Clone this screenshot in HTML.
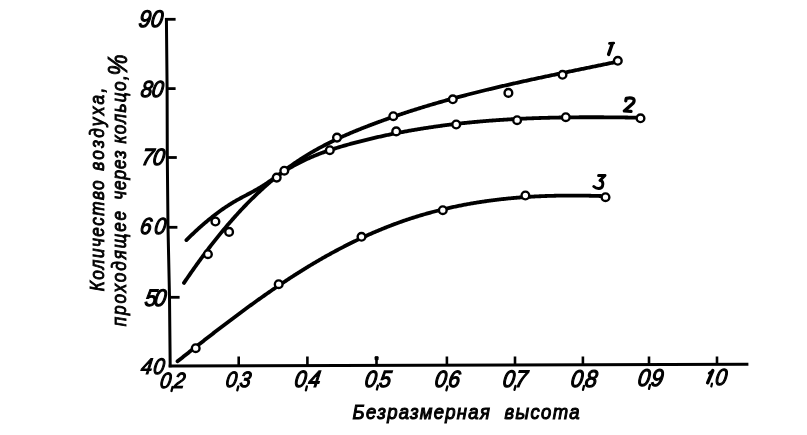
<!DOCTYPE html>
<html><head><meta charset="utf-8"><style>
html,body{margin:0;padding:0;background:#fff;width:807px;height:435px;overflow:hidden}
svg{display:block;will-change:transform}
text{font-family:"Liberation Sans",sans-serif}
</style></head><body>
<svg width="807" height="435" viewBox="0 0 807 435">
<rect width="807" height="435" fill="#fff"/>
<polyline points="166.4,18.0 167.1,88.0 167.3,157.0 168.0,227.0 169.5,297.0 170.2,367.2" fill="none" stroke="#000" stroke-width="3"/>
<line x1="165" y1="19.3" x2="175.6" y2="19.3" stroke="#000" stroke-width="2.8"/>
<line x1="167.1" y1="88.6" x2="175.6" y2="88.6" stroke="#000" stroke-width="2.8"/>
<line x1="167.3" y1="157.5" x2="176.8" y2="157.5" stroke="#000" stroke-width="2.8"/>
<line x1="168.0" y1="227.3" x2="177.4" y2="227.3" stroke="#000" stroke-width="2.8"/>
<line x1="169.5" y1="297.3" x2="179.6" y2="297.3" stroke="#000" stroke-width="2.8"/>
<line x1="168.7" y1="365.9" x2="748.4" y2="364.2" stroke="#000" stroke-width="3.0"/>
<rect x="374.6" y="356.2" width="4" height="4" rx="1" fill="#000"/>
<line x1="238.7" y1="365.6" x2="238.7" y2="356.5" stroke="#000" stroke-width="2.6"/>
<line x1="307.4" y1="365.4" x2="307.4" y2="356.5" stroke="#000" stroke-width="2.6"/>
<line x1="376.5" y1="365.2" x2="376.5" y2="356.5" stroke="#000" stroke-width="2.6"/>
<line x1="446.9" y1="365.0" x2="446.9" y2="356.5" stroke="#000" stroke-width="2.6"/>
<line x1="515.0" y1="364.8" x2="515.0" y2="356.5" stroke="#000" stroke-width="2.6"/>
<line x1="582.9" y1="364.7" x2="582.9" y2="356.5" stroke="#000" stroke-width="2.6"/>
<line x1="649.0" y1="364.5" x2="649.0" y2="356.5" stroke="#000" stroke-width="2.6"/>
<line x1="717.0" y1="364.3" x2="717.0" y2="356.5" stroke="#000" stroke-width="2.6"/>
<path d="M184.0,282.89 L185.0,281.41 L186.0,279.93 L187.0,278.47 L188.0,277.00 L189.0,275.55 L190.0,274.10 L191.0,272.66 L192.0,271.23 L193.0,269.81 L194.0,268.39 L195.0,266.98 L196.0,265.58 L197.0,264.18 L198.0,262.80 L199.0,261.42 L200.0,260.04 L201.0,258.68 L202.0,257.32 L203.0,255.97 L204.0,254.63 L205.0,253.29 L206.0,251.96 L207.0,250.64 L208.0,249.33 L209.0,248.02 L210.0,246.72 L211.0,245.43 L212.0,244.15 L213.0,242.87 L214.0,241.60 L215.0,240.34 L216.0,239.08 L217.0,237.83 L218.0,236.59 L219.0,235.36 L220.0,234.14 L221.0,232.92 L222.0,231.71 L223.0,230.50 L224.0,229.31 L225.0,228.12 L226.0,226.94 L227.0,225.76 L228.0,224.59 L229.0,223.43 L230.0,222.28 L231.0,221.14 L232.0,220.00 L233.0,218.87 L234.0,217.74 L235.0,216.63 L236.0,215.52 L237.0,214.42 L238.0,213.32 L239.0,212.24 L240.0,211.16 L241.0,210.08 L242.0,209.02 L243.0,207.96 L244.0,206.91 L245.0,205.87 L246.0,204.83 L247.0,203.80 L248.0,202.78 L249.0,201.77 L250.0,200.76 L251.0,199.76 L252.0,198.77 L253.0,197.78 L254.0,196.80 L255.0,195.83 L256.0,194.87 L257.0,193.91 L258.0,192.97 L259.0,192.02 L260.0,191.09 L261.0,190.16 L262.0,189.24 L263.0,188.33 L264.0,187.42 L265.0,186.52 L266.0,185.63 L267.0,184.75 L268.0,183.87 L269.0,183.00 L270.0,182.14 L271.0,181.28 L272.0,180.44 L273.0,179.60 L274.0,178.76 L275.0,177.94 L276.0,177.12 L277.0,176.30 L278.0,175.50 L279.0,174.70 L280.0,173.91 L281.0,173.13 L282.0,172.35 L283.0,171.58 L284.0,170.82 L285.0,170.06 L286.0,169.32 L287.0,168.58 L288.0,167.84 L289.0,167.12 L290.0,166.40 L291.0,165.68 L292.0,164.98 L293.0,164.28 L294.0,163.58 L295.0,162.90 L296.0,162.22 L297.0,161.54 L298.0,160.88 L299.0,160.21 L300.0,159.56 L301.0,158.91 L302.0,158.27 L303.0,157.63 L304.0,157.00 L305.0,156.37 L306.0,155.76 L307.0,155.14 L308.0,154.53 L309.0,153.93 L310.0,153.34 L311.0,152.74 L312.0,152.16 L313.0,151.58 L314.0,151.00 L315.0,150.43 L316.0,149.87 L317.0,149.31 L318.0,148.75 L319.0,148.20 L320.0,147.66 L321.0,147.12 L322.0,146.59 L323.0,146.06 L324.0,145.53 L325.0,145.01 L326.0,144.49 L327.0,143.98 L328.0,143.47 L329.0,142.97 L330.0,142.47 L331.0,141.97 L332.0,141.48 L333.0,141.00 L334.0,140.51 L335.0,140.04 L336.0,139.56 L337.0,139.09 L338.0,138.62 L339.0,138.16 L340.0,137.70 L341.0,137.24 L342.0,136.79 L343.0,136.34 L344.0,135.89 L345.0,135.45 L346.0,135.01 L347.0,134.57 L348.0,134.14 L349.0,133.71 L350.0,133.28 L351.0,132.86 L352.0,132.44 L353.0,132.02 L354.0,131.60 L355.0,131.19 L356.0,130.78 L357.0,130.37 L358.0,129.96 L359.0,129.56 L360.0,129.16 L361.0,128.76 L362.0,128.36 L363.0,127.97 L364.0,127.57 L365.0,127.18 L366.0,126.79 L367.0,126.41 L368.0,126.02 L369.0,125.64 L370.0,125.26 L371.0,124.88 L372.0,124.50 L373.0,124.12 L374.0,123.75 L375.0,123.37 L376.0,123.00 L377.0,122.63 L378.0,122.26 L379.0,121.89 L380.0,121.53 L381.0,121.16 L382.0,120.80 L383.0,120.44 L384.0,120.08 L385.0,119.72 L386.0,119.37 L387.0,119.01 L388.0,118.66 L389.0,118.30 L390.0,117.95 L391.0,117.60 L392.0,117.26 L393.0,116.91 L394.0,116.57 L395.0,116.22 L396.0,115.88 L397.0,115.54 L398.0,115.20 L399.0,114.86 L400.0,114.53 L401.0,114.19 L402.0,113.86 L403.0,113.52 L404.0,113.19 L405.0,112.86 L406.0,112.54 L407.0,112.21 L408.0,111.88 L409.0,111.56 L410.0,111.24 L411.0,110.92 L412.0,110.60 L413.0,110.28 L414.0,109.96 L415.0,109.64 L416.0,109.33 L417.0,109.01 L418.0,108.70 L419.0,108.39 L420.0,108.08 L421.0,107.77 L422.0,107.46 L423.0,107.16 L424.0,106.85 L425.0,106.55 L426.0,106.25 L427.0,105.94 L428.0,105.64 L429.0,105.35 L430.0,105.05 L431.0,104.75 L432.0,104.45 L433.0,104.16 L434.0,103.87 L435.0,103.58 L436.0,103.28 L437.0,102.99 L438.0,102.71 L439.0,102.42 L440.0,102.13 L441.0,101.85 L442.0,101.56 L443.0,101.28 L444.0,101.00 L445.0,100.71 L446.0,100.43 L447.0,100.16 L448.0,99.88 L449.0,99.60 L450.0,99.32 L451.0,99.05 L452.0,98.78 L453.0,98.50 L454.0,98.23 L455.0,97.96 L456.0,97.69 L457.0,97.42 L458.0,97.15 L459.0,96.89 L460.0,96.62 L461.0,96.35 L462.0,96.09 L463.0,95.83 L464.0,95.56 L465.0,95.30 L466.0,95.04 L467.0,94.78 L468.0,94.52 L469.0,94.27 L470.0,94.01 L471.0,93.75 L472.0,93.50 L473.0,93.24 L474.0,92.99 L475.0,92.74 L476.0,92.49 L477.0,92.23 L478.0,91.98 L479.0,91.73 L480.0,91.49 L481.0,91.24 L482.0,90.99 L483.0,90.74 L484.0,90.50 L485.0,90.25 L486.0,90.01 L487.0,89.77 L488.0,89.53 L489.0,89.28 L490.0,89.04 L491.0,88.80 L492.0,88.56 L493.0,88.32 L494.0,88.09 L495.0,87.85 L496.0,87.61 L497.0,87.37 L498.0,87.14 L499.0,86.90 L500.0,86.67 L501.0,86.44 L502.0,86.20 L503.0,85.97 L504.0,85.74 L505.0,85.51 L506.0,85.28 L507.0,85.05 L508.0,84.82 L509.0,84.59 L510.0,84.36 L511.0,84.14 L512.0,83.91 L513.0,83.68 L514.0,83.46 L515.0,83.23 L516.0,83.01 L517.0,82.78 L518.0,82.56 L519.0,82.34 L520.0,82.11 L521.0,81.89 L522.0,81.67 L523.0,81.45 L524.0,81.23 L525.0,81.01 L526.0,80.79 L527.0,80.57 L528.0,80.35 L529.0,80.13 L530.0,79.91 L531.0,79.70 L532.0,79.48 L533.0,79.26 L534.0,79.04 L535.0,78.83 L536.0,78.61 L537.0,78.40 L538.0,78.18 L539.0,77.97 L540.0,77.75 L541.0,77.54 L542.0,77.33 L543.0,77.11 L544.0,76.90 L545.0,76.69 L546.0,76.48 L547.0,76.26 L548.0,76.05 L549.0,75.84 L550.0,75.63 L551.0,75.42 L552.0,75.21 L553.0,75.00 L554.0,74.79 L555.0,74.58 L556.0,74.37 L557.0,74.16 L558.0,73.95 L559.0,73.74 L560.0,73.53 L561.0,73.33 L562.0,73.12 L563.0,72.91 L564.0,72.70 L565.0,72.49 L566.0,72.29 L567.0,72.08 L568.0,71.87 L569.0,71.67 L570.0,71.46 L571.0,71.25 L572.0,71.05 L573.0,70.84 L574.0,70.63 L575.0,70.43 L576.0,70.22 L577.0,70.01 L578.0,69.81 L579.0,69.60 L580.0,69.39 L581.0,69.19 L582.0,68.98 L583.0,68.78 L584.0,68.57 L585.0,68.37 L586.0,68.16 L587.0,67.95 L588.0,67.75 L589.0,67.54 L590.0,67.34 L591.0,67.13 L592.0,66.92 L593.0,66.72 L594.0,66.51 L595.0,66.31 L596.0,66.10 L597.0,65.89 L598.0,65.69 L599.0,65.48 L600.0,65.27 L601.0,65.07 L602.0,64.86 L603.0,64.65 L604.0,64.45 L605.0,64.24 L606.0,64.03 L607.0,63.83 L608.0,63.62 L609.0,63.41 L610.0,63.20 L611.0,62.99 L612.0,62.79 L613.0,62.58 L614.0,62.37 L615.0,62.16 L616.0,61.95 L617.0,61.74 L617.5,61.64" fill="none" stroke="#000" stroke-width="3.8" stroke-linecap="round" stroke-linejoin="round"/>
<path d="M186.4,240.08 L187.4,239.09 L188.4,238.10 L189.4,237.13 L190.4,236.16 L191.4,235.20 L192.4,234.25 L193.4,233.30 L194.4,232.36 L195.4,231.43 L196.4,230.51 L197.4,229.59 L198.4,228.68 L199.4,227.78 L200.4,226.89 L201.4,226.01 L202.4,225.13 L203.4,224.26 L204.4,223.40 L205.4,222.55 L206.4,221.70 L207.4,220.87 L208.4,220.04 L209.4,219.22 L210.4,218.41 L211.4,217.61 L212.4,216.81 L213.4,216.03 L214.4,215.25 L215.4,214.48 L216.4,213.72 L217.4,212.97 L218.4,212.23 L219.4,211.50 L220.4,210.78 L221.4,210.06 L222.4,209.36 L223.4,208.66 L224.4,207.97 L225.4,207.29 L226.4,206.63 L227.4,205.97 L228.4,205.32 L229.4,204.68 L230.4,204.04 L231.4,203.42 L232.4,202.81 L233.4,202.21 L234.4,201.62 L235.4,201.04 L236.4,200.46 L237.4,199.90 L238.4,199.34 L239.4,198.79 L240.4,198.25 L241.4,197.71 L242.4,197.17 L243.4,196.64 L244.4,196.11 L245.4,195.59 L246.4,195.06 L247.4,194.53 L248.4,194.01 L249.4,193.48 L250.4,192.95 L251.4,192.41 L252.4,191.87 L253.4,191.33 L254.4,190.78 L255.4,190.22 L256.4,189.66 L257.4,189.08 L258.4,188.50 L259.4,187.91 L260.4,187.31 L261.4,186.69 L262.4,186.06 L263.4,185.43 L264.4,184.78 L265.4,184.13 L266.4,183.46 L267.4,182.80 L268.4,182.12 L269.4,181.44 L270.4,180.76 L271.4,180.07 L272.4,179.39 L273.4,178.70 L274.4,178.01 L275.4,177.32 L276.4,176.63 L277.4,175.94 L278.4,175.26 L279.4,174.59 L280.4,173.91 L281.4,173.25 L282.4,172.59 L283.4,171.94 L284.4,171.29 L285.4,170.66 L286.4,170.04 L287.4,169.42 L288.4,168.82 L289.4,168.22 L290.4,167.63 L291.4,167.05 L292.4,166.48 L293.4,165.92 L294.4,165.36 L295.4,164.81 L296.4,164.28 L297.4,163.74 L298.4,163.22 L299.4,162.71 L300.4,162.20 L301.4,161.70 L302.4,161.21 L303.4,160.72 L304.4,160.24 L305.4,159.77 L306.4,159.31 L307.4,158.85 L308.4,158.40 L309.4,157.95 L310.4,157.52 L311.4,157.08 L312.4,156.66 L313.4,156.24 L314.4,155.82 L315.4,155.42 L316.4,155.02 L317.4,154.62 L318.4,154.23 L319.4,153.84 L320.4,153.46 L321.4,153.09 L322.4,152.72 L323.4,152.35 L324.4,151.99 L325.4,151.64 L326.4,151.29 L327.4,150.94 L328.4,150.60 L329.4,150.26 L330.4,149.93 L331.4,149.60 L332.4,149.27 L333.4,148.95 L334.4,148.63 L335.4,148.32 L336.4,148.01 L337.4,147.70 L338.4,147.40 L339.4,147.10 L340.4,146.80 L341.4,146.50 L342.4,146.21 L343.4,145.92 L344.4,145.63 L345.4,145.35 L346.4,145.06 L347.4,144.78 L348.4,144.51 L349.4,144.23 L350.4,143.95 L351.4,143.68 L352.4,143.41 L353.4,143.14 L354.4,142.87 L355.4,142.61 L356.4,142.34 L357.4,142.08 L358.4,141.82 L359.4,141.56 L360.4,141.31 L361.4,141.05 L362.4,140.80 L363.4,140.54 L364.4,140.29 L365.4,140.05 L366.4,139.80 L367.4,139.55 L368.4,139.31 L369.4,139.07 L370.4,138.83 L371.4,138.59 L372.4,138.35 L373.4,138.12 L374.4,137.89 L375.4,137.65 L376.4,137.42 L377.4,137.20 L378.4,136.97 L379.4,136.74 L380.4,136.52 L381.4,136.30 L382.4,136.08 L383.4,135.86 L384.4,135.64 L385.4,135.43 L386.4,135.21 L387.4,135.00 L388.4,134.79 L389.4,134.58 L390.4,134.38 L391.4,134.17 L392.4,133.96 L393.4,133.76 L394.4,133.56 L395.4,133.36 L396.4,133.16 L397.4,132.97 L398.4,132.77 L399.4,132.58 L400.4,132.39 L401.4,132.20 L402.4,132.01 L403.4,131.82 L404.4,131.63 L405.4,131.45 L406.4,131.27 L407.4,131.08 L408.4,130.90 L409.4,130.72 L410.4,130.55 L411.4,130.37 L412.4,130.20 L413.4,130.03 L414.4,129.85 L415.4,129.68 L416.4,129.52 L417.4,129.35 L418.4,129.18 L419.4,129.02 L420.4,128.86 L421.4,128.69 L422.4,128.53 L423.4,128.38 L424.4,128.22 L425.4,128.06 L426.4,127.91 L427.4,127.76 L428.4,127.60 L429.4,127.45 L430.4,127.30 L431.4,127.16 L432.4,127.01 L433.4,126.87 L434.4,126.72 L435.4,126.58 L436.4,126.44 L437.4,126.30 L438.4,126.16 L439.4,126.02 L440.4,125.89 L441.4,125.75 L442.4,125.62 L443.4,125.49 L444.4,125.36 L445.4,125.23 L446.4,125.10 L447.4,124.98 L448.4,124.85 L449.4,124.73 L450.4,124.60 L451.4,124.48 L452.4,124.36 L453.4,124.24 L454.4,124.12 L455.4,124.01 L456.4,123.89 L457.4,123.78 L458.4,123.66 L459.4,123.55 L460.4,123.44 L461.4,123.33 L462.4,123.22 L463.4,123.12 L464.4,123.01 L465.4,122.91 L466.4,122.80 L467.4,122.70 L468.4,122.60 L469.4,122.50 L470.4,122.40 L471.4,122.30 L472.4,122.20 L473.4,122.11 L474.4,122.01 L475.4,121.92 L476.4,121.83 L477.4,121.74 L478.4,121.65 L479.4,121.56 L480.4,121.47 L481.4,121.38 L482.4,121.30 L483.4,121.21 L484.4,121.13 L485.4,121.05 L486.4,120.97 L487.4,120.89 L488.4,120.81 L489.4,120.73 L490.4,120.65 L491.4,120.57 L492.4,120.50 L493.4,120.43 L494.4,120.35 L495.4,120.28 L496.4,120.21 L497.4,120.14 L498.4,120.07 L499.4,120.00 L500.4,119.93 L501.4,119.87 L502.4,119.80 L503.4,119.74 L504.4,119.67 L505.4,119.61 L506.4,119.55 L507.4,119.49 L508.4,119.43 L509.4,119.37 L510.4,119.32 L511.4,119.26 L512.4,119.20 L513.4,119.15 L514.4,119.09 L515.4,119.04 L516.4,118.99 L517.4,118.94 L518.4,118.89 L519.4,118.84 L520.4,118.79 L521.4,118.74 L522.4,118.69 L523.4,118.65 L524.4,118.60 L525.4,118.56 L526.4,118.51 L527.4,118.47 L528.4,118.43 L529.4,118.39 L530.4,118.35 L531.4,118.31 L532.4,118.27 L533.4,118.23 L534.4,118.20 L535.4,118.16 L536.4,118.12 L537.4,118.09 L538.4,118.06 L539.4,118.02 L540.4,117.99 L541.4,117.96 L542.4,117.93 L543.4,117.90 L544.4,117.87 L545.4,117.84 L546.4,117.81 L547.4,117.79 L548.4,117.76 L549.4,117.73 L550.4,117.71 L551.4,117.69 L552.4,117.66 L553.4,117.64 L554.4,117.62 L555.4,117.60 L556.4,117.57 L557.4,117.55 L558.4,117.54 L559.4,117.52 L560.4,117.50 L561.4,117.48 L562.4,117.46 L563.4,117.45 L564.4,117.43 L565.4,117.42 L566.4,117.40 L567.4,117.39 L568.4,117.38 L569.4,117.37 L570.4,117.35 L571.4,117.34 L572.4,117.33 L573.4,117.32 L574.4,117.31 L575.4,117.30 L576.4,117.30 L577.4,117.29 L578.4,117.28 L579.4,117.27 L580.4,117.27 L581.4,117.26 L582.4,117.26 L583.4,117.25 L584.4,117.25 L585.4,117.25 L586.4,117.24 L587.4,117.24 L588.4,117.24 L589.4,117.24 L590.4,117.24 L591.4,117.24 L592.4,117.24 L593.4,117.24 L594.4,117.24 L595.4,117.24 L596.4,117.24 L597.4,117.25 L598.4,117.25 L599.4,117.25 L600.4,117.26 L601.4,117.26 L602.4,117.27 L603.4,117.27 L604.4,117.28 L605.4,117.28 L606.4,117.29 L607.4,117.30 L608.4,117.31 L609.4,117.31 L610.4,117.32 L611.4,117.33 L612.4,117.34 L613.4,117.35 L614.4,117.36 L615.4,117.37 L616.4,117.38 L617.4,117.39 L618.4,117.40 L619.4,117.41 L620.4,117.42 L621.4,117.44 L622.4,117.45 L623.4,117.46 L624.4,117.47 L625.4,117.49 L626.4,117.50 L627.4,117.52 L628.4,117.53 L629.4,117.54 L630.4,117.56 L631.4,117.57 L632.4,117.59 L633.4,117.61 L634.4,117.62 L635.4,117.64 L636.4,117.65 L637.4,117.67 L638.4,117.69 L639.4,117.71 L640.4,117.72 L640.5,117.72" fill="none" stroke="#000" stroke-width="3.8" stroke-linecap="round" stroke-linejoin="round"/>
<path d="M177.5,361.36 L178.5,360.57 L179.5,359.77 L180.5,358.98 L181.5,358.19 L182.5,357.40 L183.5,356.60 L184.5,355.81 L185.5,355.02 L186.5,354.23 L187.5,353.44 L188.5,352.65 L189.5,351.86 L190.5,351.07 L191.5,350.29 L192.5,349.50 L193.5,348.71 L194.5,347.93 L195.5,347.14 L196.5,346.35 L197.5,345.57 L198.5,344.79 L199.5,344.00 L200.5,343.22 L201.5,342.44 L202.5,341.66 L203.5,340.88 L204.5,340.10 L205.5,339.32 L206.5,338.54 L207.5,337.77 L208.5,336.99 L209.5,336.21 L210.5,335.44 L211.5,334.67 L212.5,333.89 L213.5,333.12 L214.5,332.35 L215.5,331.58 L216.5,330.81 L217.5,330.04 L218.5,329.28 L219.5,328.51 L220.5,327.75 L221.5,326.98 L222.5,326.22 L223.5,325.46 L224.5,324.70 L225.5,323.94 L226.5,323.18 L227.5,322.42 L228.5,321.67 L229.5,320.91 L230.5,320.16 L231.5,319.40 L232.5,318.65 L233.5,317.90 L234.5,317.15 L235.5,316.41 L236.5,315.66 L237.5,314.92 L238.5,314.17 L239.5,313.43 L240.5,312.69 L241.5,311.95 L242.5,311.21 L243.5,310.48 L244.5,309.74 L245.5,309.01 L246.5,308.28 L247.5,307.54 L248.5,306.82 L249.5,306.09 L250.5,305.36 L251.5,304.64 L252.5,303.91 L253.5,303.19 L254.5,302.47 L255.5,301.76 L256.5,301.04 L257.5,300.32 L258.5,299.61 L259.5,298.90 L260.5,298.19 L261.5,297.48 L262.5,296.77 L263.5,296.07 L264.5,295.37 L265.5,294.67 L266.5,293.97 L267.5,293.27 L268.5,292.57 L269.5,291.88 L270.5,291.19 L271.5,290.50 L272.5,289.81 L273.5,289.13 L274.5,288.44 L275.5,287.76 L276.5,287.08 L277.5,286.40 L278.5,285.72 L279.5,285.05 L280.5,284.38 L281.5,283.71 L282.5,283.04 L283.5,282.38 L284.5,281.71 L285.5,281.05 L286.5,280.39 L287.5,279.73 L288.5,279.08 L289.5,278.43 L290.5,277.77 L291.5,277.13 L292.5,276.48 L293.5,275.84 L294.5,275.19 L295.5,274.56 L296.5,273.92 L297.5,273.28 L298.5,272.65 L299.5,272.02 L300.5,271.39 L301.5,270.77 L302.5,270.15 L303.5,269.53 L304.5,268.91 L305.5,268.29 L306.5,267.68 L307.5,267.07 L308.5,266.46 L309.5,265.86 L310.5,265.25 L311.5,264.65 L312.5,264.05 L313.5,263.46 L314.5,262.87 L315.5,262.28 L316.5,261.69 L317.5,261.11 L318.5,260.52 L319.5,259.94 L320.5,259.37 L321.5,258.79 L322.5,258.22 L323.5,257.65 L324.5,257.08 L325.5,256.52 L326.5,255.96 L327.5,255.40 L328.5,254.84 L329.5,254.29 L330.5,253.74 L331.5,253.19 L332.5,252.65 L333.5,252.10 L334.5,251.56 L335.5,251.03 L336.5,250.49 L337.5,249.96 L338.5,249.43 L339.5,248.90 L340.5,248.38 L341.5,247.86 L342.5,247.34 L343.5,246.82 L344.5,246.31 L345.5,245.80 L346.5,245.29 L347.5,244.78 L348.5,244.28 L349.5,243.78 L350.5,243.28 L351.5,242.79 L352.5,242.30 L353.5,241.81 L354.5,241.32 L355.5,240.84 L356.5,240.36 L357.5,239.88 L358.5,239.40 L359.5,238.93 L360.5,238.46 L361.5,237.99 L362.5,237.53 L363.5,237.07 L364.5,236.61 L365.5,236.15 L366.5,235.70 L367.5,235.25 L368.5,234.80 L369.5,234.36 L370.5,233.91 L371.5,233.47 L372.5,233.04 L373.5,232.60 L374.5,232.17 L375.5,231.74 L376.5,231.32 L377.5,230.90 L378.5,230.48 L379.5,230.06 L380.5,229.65 L381.5,229.23 L382.5,228.83 L383.5,228.42 L384.5,228.02 L385.5,227.62 L386.5,227.22 L387.5,226.83 L388.5,226.44 L389.5,226.05 L390.5,225.66 L391.5,225.28 L392.5,224.90 L393.5,224.52 L394.5,224.15 L395.5,223.78 L396.5,223.41 L397.5,223.04 L398.5,222.68 L399.5,222.32 L400.5,221.96 L401.5,221.61 L402.5,221.26 L403.5,220.91 L404.5,220.57 L405.5,220.22 L406.5,219.88 L407.5,219.55 L408.5,219.21 L409.5,218.88 L410.5,218.55 L411.5,218.23 L412.5,217.91 L413.5,217.59 L414.5,217.27 L415.5,216.95 L416.5,216.64 L417.5,216.33 L418.5,216.03 L419.5,215.73 L420.5,215.42 L421.5,215.13 L422.5,214.83 L423.5,214.54 L424.5,214.25 L425.5,213.96 L426.5,213.68 L427.5,213.40 L428.5,213.12 L429.5,212.84 L430.5,212.57 L431.5,212.29 L432.5,212.03 L433.5,211.76 L434.5,211.50 L435.5,211.24 L436.5,210.98 L437.5,210.72 L438.5,210.47 L439.5,210.22 L440.5,209.97 L441.5,209.72 L442.5,209.48 L443.5,209.24 L444.5,209.00 L445.5,208.76 L446.5,208.53 L447.5,208.30 L448.5,208.07 L449.5,207.85 L450.5,207.62 L451.5,207.40 L452.5,207.18 L453.5,206.97 L454.5,206.75 L455.5,206.54 L456.5,206.33 L457.5,206.13 L458.5,205.92 L459.5,205.72 L460.5,205.52 L461.5,205.32 L462.5,205.13 L463.5,204.93 L464.5,204.74 L465.5,204.55 L466.5,204.37 L467.5,204.18 L468.5,204.00 L469.5,203.82 L470.5,203.65 L471.5,203.47 L472.5,203.30 L473.5,203.13 L474.5,202.96 L475.5,202.79 L476.5,202.63 L477.5,202.47 L478.5,202.31 L479.5,202.15 L480.5,202.00 L481.5,201.84 L482.5,201.69 L483.5,201.54 L484.5,201.40 L485.5,201.25 L486.5,201.11 L487.5,200.97 L488.5,200.83 L489.5,200.69 L490.5,200.56 L491.5,200.43 L492.5,200.30 L493.5,200.17 L494.5,200.04 L495.5,199.92 L496.5,199.80 L497.5,199.67 L498.5,199.56 L499.5,199.44 L500.5,199.33 L501.5,199.21 L502.5,199.10 L503.5,198.99 L504.5,198.89 L505.5,198.78 L506.5,198.68 L507.5,198.58 L508.5,198.48 L509.5,198.38 L510.5,198.28 L511.5,198.19 L512.5,198.10 L513.5,198.01 L514.5,197.92 L515.5,197.83 L516.5,197.75 L517.5,197.67 L518.5,197.58 L519.5,197.51 L520.5,197.43 L521.5,197.35 L522.5,197.28 L523.5,197.20 L524.5,197.13 L525.5,197.06 L526.5,197.00 L527.5,196.93 L528.5,196.87 L529.5,196.80 L530.5,196.74 L531.5,196.69 L532.5,196.63 L533.5,196.57 L534.5,196.52 L535.5,196.46 L536.5,196.41 L537.5,196.36 L538.5,196.32 L539.5,196.27 L540.5,196.23 L541.5,196.18 L542.5,196.14 L543.5,196.10 L544.5,196.06 L545.5,196.02 L546.5,195.99 L547.5,195.95 L548.5,195.92 L549.5,195.89 L550.5,195.86 L551.5,195.83 L552.5,195.81 L553.5,195.78 L554.5,195.76 L555.5,195.73 L556.5,195.71 L557.5,195.69 L558.5,195.67 L559.5,195.66 L560.5,195.64 L561.5,195.63 L562.5,195.61 L563.5,195.60 L564.5,195.59 L565.5,195.58 L566.5,195.58 L567.5,195.57 L568.5,195.56 L569.5,195.56 L570.5,195.56 L571.5,195.56 L572.5,195.56 L573.5,195.56 L574.5,195.56 L575.5,195.56 L576.5,195.57 L577.5,195.57 L578.5,195.58 L579.5,195.59 L580.5,195.60 L581.5,195.61 L582.5,195.62 L583.5,195.63 L584.5,195.65 L585.5,195.66 L586.5,195.68 L587.5,195.70 L588.5,195.72 L589.5,195.73 L590.5,195.76 L591.5,195.78 L592.5,195.80 L593.5,195.82 L594.5,195.85 L595.5,195.87 L596.5,195.90 L597.5,195.93 L598.5,195.96 L599.5,195.99 L600.5,196.02 L601.5,196.05 L602.5,196.08 L603.5,196.12 L604.5,196.15 L605.0,196.17" fill="none" stroke="#000" stroke-width="3.8" stroke-linecap="round" stroke-linejoin="round"/>
<circle cx="207.9" cy="254.2" r="3.85" fill="#fff" stroke="#000" stroke-width="2.4"/>
<circle cx="229.1" cy="231.9" r="3.85" fill="#fff" stroke="#000" stroke-width="2.4"/>
<circle cx="276.7" cy="177.6" r="3.85" fill="#fff" stroke="#000" stroke-width="2.4"/>
<circle cx="284.3" cy="170.7" r="3.85" fill="#fff" stroke="#000" stroke-width="2.4"/>
<circle cx="337.0" cy="137.6" r="3.85" fill="#fff" stroke="#000" stroke-width="2.4"/>
<circle cx="393.3" cy="116.2" r="3.85" fill="#fff" stroke="#000" stroke-width="2.4"/>
<circle cx="452.8" cy="99.3" r="3.85" fill="#fff" stroke="#000" stroke-width="2.4"/>
<circle cx="508.4" cy="92.9" r="3.85" fill="#fff" stroke="#000" stroke-width="2.4"/>
<circle cx="562.5" cy="74.8" r="3.85" fill="#fff" stroke="#000" stroke-width="2.4"/>
<circle cx="617.8" cy="60.8" r="3.85" fill="#fff" stroke="#000" stroke-width="2.4"/>
<circle cx="215.4" cy="221.5" r="3.85" fill="#fff" stroke="#000" stroke-width="2.4"/>
<circle cx="329.8" cy="150.2" r="3.85" fill="#fff" stroke="#000" stroke-width="2.4"/>
<circle cx="396.2" cy="131.4" r="3.85" fill="#fff" stroke="#000" stroke-width="2.4"/>
<circle cx="456.2" cy="124.5" r="3.85" fill="#fff" stroke="#000" stroke-width="2.4"/>
<circle cx="517.1" cy="120.2" r="3.85" fill="#fff" stroke="#000" stroke-width="2.4"/>
<circle cx="565.8" cy="117.2" r="3.85" fill="#fff" stroke="#000" stroke-width="2.4"/>
<circle cx="640.5" cy="118.3" r="3.85" fill="#fff" stroke="#000" stroke-width="2.4"/>
<circle cx="195.7" cy="348.2" r="3.85" fill="#fff" stroke="#000" stroke-width="2.4"/>
<circle cx="278.7" cy="284.2" r="3.85" fill="#fff" stroke="#000" stroke-width="2.4"/>
<circle cx="361.5" cy="236.8" r="3.85" fill="#fff" stroke="#000" stroke-width="2.4"/>
<circle cx="442.8" cy="210.2" r="3.85" fill="#fff" stroke="#000" stroke-width="2.4"/>
<circle cx="525.4" cy="195.5" r="3.85" fill="#fff" stroke="#000" stroke-width="2.4"/>
<circle cx="605.5" cy="197.2" r="3.85" fill="#fff" stroke="#000" stroke-width="2.4"/>
<g transform="translate(137.96,26.70) skewX(-8) scale(0.9371,1.0412)"><text font-size="23" font-family="Liberation Sans, sans-serif" font-style="italic" font-weight="normal" stroke="#000" stroke-width="1.2">9</text></g>
<g transform="translate(149.96,26.70) skewX(-8) scale(0.9371,1.0412)"><text font-size="23" font-family="Liberation Sans, sans-serif" font-style="italic" font-weight="normal" stroke="#000" stroke-width="1.2">0</text></g>
<g transform="translate(140.00,96.70) skewX(-8) scale(0.9053,1.0059)"><text font-size="23" font-family="Liberation Sans, sans-serif" font-style="italic" font-weight="normal" stroke="#000" stroke-width="1.2">8</text></g>
<g transform="translate(151.02,96.70) skewX(-8) scale(0.9053,1.0059)"><text font-size="23" font-family="Liberation Sans, sans-serif" font-style="italic" font-weight="normal" stroke="#000" stroke-width="1.2">0</text></g>
<g transform="translate(140.95,165.40) skewX(-8) scale(0.9212,1.0235)"><text font-size="23" font-family="Liberation Sans, sans-serif" font-style="italic" font-weight="normal" stroke="#000" stroke-width="1.2">7</text></g>
<g transform="translate(152.09,165.40) skewX(-8) scale(0.9212,1.0235)"><text font-size="23" font-family="Liberation Sans, sans-serif" font-style="italic" font-weight="normal" stroke="#000" stroke-width="1.2">0</text></g>
<g transform="translate(139.29,234.30) skewX(-8) scale(0.9053,1.0059)"><text font-size="23" font-family="Liberation Sans, sans-serif" font-style="italic" font-weight="normal" stroke="#000" stroke-width="1.2">6</text></g>
<g transform="translate(153.52,234.30) skewX(-8) scale(0.9053,1.0059)"><text font-size="23" font-family="Liberation Sans, sans-serif" font-style="italic" font-weight="normal" stroke="#000" stroke-width="1.2">0</text></g>
<g transform="translate(144.00,306.00) skewX(-8) scale(0.9371,1.0412)"><text font-size="23" font-family="Liberation Sans, sans-serif" font-style="italic" font-weight="normal" stroke="#000" stroke-width="1.2">5</text></g>
<g transform="translate(153.16,306.00) skewX(-8) scale(0.9371,1.0412)"><text font-size="23" font-family="Liberation Sans, sans-serif" font-style="italic" font-weight="normal" stroke="#000" stroke-width="1.2">0</text></g>
<g transform="translate(140.20,373.80) skewX(-8) scale(0.8735,0.9706)"><text font-size="23" font-family="Liberation Sans, sans-serif" font-style="italic" font-weight="normal" stroke="#000" stroke-width="1.2">4</text></g>
<g transform="translate(152.38,373.80) skewX(-8) scale(0.8735,0.9706)"><text font-size="23" font-family="Liberation Sans, sans-serif" font-style="italic" font-weight="normal" stroke="#000" stroke-width="1.2">0</text></g>
<g transform="translate(159.35,388.00) skewX(-8) scale(0.8576,0.9529)"><text font-size="23" font-family="Liberation Sans, sans-serif" font-style="italic" font-weight="normal" stroke="#000" stroke-width="1.2">0</text></g>
<g transform="translate(173.31,388.00) skewX(-8) scale(0.8576,0.9529)"><text font-size="23" font-family="Liberation Sans, sans-serif" font-style="italic" font-weight="normal" stroke="#000" stroke-width="1.2">2</text></g>
<path d="M172.5,387.0 L171.5,391.0" stroke="#000" stroke-width="2.3" stroke-linecap="round" fill="none"/>
<g transform="translate(225.04,387.30) skewX(-8) scale(0.8629,0.9588)"><text font-size="23" font-family="Liberation Sans, sans-serif" font-style="italic" font-weight="normal" stroke="#000" stroke-width="1.2">0</text></g>
<g transform="translate(239.04,387.30) skewX(-8) scale(0.8629,0.9588)"><text font-size="23" font-family="Liberation Sans, sans-serif" font-style="italic" font-weight="normal" stroke="#000" stroke-width="1.2">3</text></g>
<path d="M238.3,386.3 L237.3,390.3" stroke="#000" stroke-width="2.3" stroke-linecap="round" fill="none"/>
<g transform="translate(293.68,387.30) skewX(-8) scale(0.9159,1.0176)"><text font-size="23" font-family="Liberation Sans, sans-serif" font-style="italic" font-weight="normal" stroke="#000" stroke-width="1.2">0</text></g>
<g transform="translate(307.79,387.30) skewX(-8) scale(0.9159,1.0176)"><text font-size="23" font-family="Liberation Sans, sans-serif" font-style="italic" font-weight="normal" stroke="#000" stroke-width="1.2">4</text></g>
<path d="M306.9,386.3 L305.9,390.3" stroke="#000" stroke-width="2.3" stroke-linecap="round" fill="none"/>
<g transform="translate(364.08,386.50) skewX(-8) scale(0.9159,1.0176)"><text font-size="23" font-family="Liberation Sans, sans-serif" font-style="italic" font-weight="normal" stroke="#000" stroke-width="1.2">0</text></g>
<g transform="translate(378.47,386.50) skewX(-8) scale(0.9159,1.0176)"><text font-size="23" font-family="Liberation Sans, sans-serif" font-style="italic" font-weight="normal" stroke="#000" stroke-width="1.2">5</text></g>
<path d="M377.9,385.5 L376.9,389.5" stroke="#000" stroke-width="2.3" stroke-linecap="round" fill="none"/>
<g transform="translate(433.98,387.30) skewX(-8) scale(0.9159,1.0176)"><text font-size="23" font-family="Liberation Sans, sans-serif" font-style="italic" font-weight="normal" stroke="#000" stroke-width="1.2">0</text></g>
<g transform="translate(447.47,387.30) skewX(-8) scale(0.9159,1.0176)"><text font-size="23" font-family="Liberation Sans, sans-serif" font-style="italic" font-weight="normal" stroke="#000" stroke-width="1.2">6</text></g>
<path d="M447.4,386.3 L446.4,390.3" stroke="#000" stroke-width="2.3" stroke-linecap="round" fill="none"/>
<g transform="translate(501.97,386.80) skewX(-8) scale(0.9265,1.0294)"><text font-size="23" font-family="Liberation Sans, sans-serif" font-style="italic" font-weight="normal" stroke="#000" stroke-width="1.2">0</text></g>
<g transform="translate(514.59,386.80) skewX(-8) scale(0.9265,1.0294)"><text font-size="23" font-family="Liberation Sans, sans-serif" font-style="italic" font-weight="normal" stroke="#000" stroke-width="1.2">7</text></g>
<path d="M515.5,385.8 L514.5,389.8" stroke="#000" stroke-width="2.3" stroke-linecap="round" fill="none"/>
<g transform="translate(570.05,386.80) skewX(-8) scale(0.9424,1.0471)"><text font-size="23" font-family="Liberation Sans, sans-serif" font-style="italic" font-weight="normal" stroke="#000" stroke-width="1.2">0</text></g>
<g transform="translate(584.29,386.80) skewX(-8) scale(0.9424,1.0471)"><text font-size="23" font-family="Liberation Sans, sans-serif" font-style="italic" font-weight="normal" stroke="#000" stroke-width="1.2">8</text></g>
<path d="M584.0,385.8 L583.0,389.8" stroke="#000" stroke-width="2.3" stroke-linecap="round" fill="none"/>
<g transform="translate(636.95,385.90) skewX(-8) scale(0.9476,1.0529)"><text font-size="23" font-family="Liberation Sans, sans-serif" font-style="italic" font-weight="normal" stroke="#000" stroke-width="1.2">0</text></g>
<g transform="translate(650.36,385.90) skewX(-8) scale(0.9476,1.0529)"><text font-size="23" font-family="Liberation Sans, sans-serif" font-style="italic" font-weight="normal" stroke="#000" stroke-width="1.2">9</text></g>
<path d="M650.0,384.9 L649.0,388.9" stroke="#000" stroke-width="2.3" stroke-linecap="round" fill="none"/>
<path d="M612.2,44 L608.6,54.4" stroke="#000" stroke-width="3.4" stroke-linecap="round" fill="none"/>
<path d="M609.4,43.4 L613.8,43" stroke="#000" stroke-width="2.6" stroke-linecap="round" fill="none"/>
<path d="M625.8,100.8 L626.3,98.3 C628.8,97.7 631.6,97.7 633.2,98.6 C634.6,99.8 634.3,102 632.8,103.6 L624.3,110.9 L631,111.4" stroke="#000" stroke-width="3.3" stroke-linejoin="round" stroke-linecap="round" fill="none"/>
<path d="M598.6,175.6 L605,175.4 L600,180.5 C603,180.5 603.2,184 602.5,186 C601.5,189 597,189.5 593.8,186.5" stroke="#000" stroke-width="3" stroke-linejoin="round" stroke-linecap="round" fill="none"/>
<path d="M712.8,370.6 L707.6,382.8" stroke="#000" stroke-width="3.4" stroke-linecap="round" fill="none"/>
<path d="M712.8,370.6 L709,373.2" stroke="#000" stroke-width="2.4" stroke-linecap="round" fill="none"/>
<path d="M712,383.6 L711.3,386.4" stroke="#000" stroke-width="2.2" stroke-linecap="round" fill="none"/>
<g transform="translate(714.40,385.20) skewX(-8) scale(0.9053,1.0059)"><text font-size="23" font-family="Liberation Sans, sans-serif" font-style="italic" font-weight="normal" stroke="#000" stroke-width="1.2">0</text></g>
<text transform="translate(352.6,418.6) scale(0.880,1)" font-size="21" textLength="155.9" lengthAdjust="spacing" font-family="Liberation Sans, sans-serif" font-style="italic" font-weight="normal" stroke="#000" stroke-width="1.1">Безразмерная</text>
<text transform="translate(504.5,418.6) scale(0.880,1)" font-size="21" textLength="85.2" lengthAdjust="spacing" font-family="Liberation Sans, sans-serif" font-style="italic" font-weight="normal" stroke="#000" stroke-width="1.1">высота</text>
<text transform="translate(103.7,291.3) rotate(-90) scale(0.880,1)" x="0" y="0" font-size="19.5" textLength="125.9" lengthAdjust="spacing" font-family="Liberation Sans, sans-serif" font-style="italic" font-weight="normal" stroke="#000" stroke-width="0.9">Количество</text>
<text transform="translate(103.7,170.8) rotate(-90) scale(0.880,1)" x="0" y="0" font-size="19.5" textLength="94.5" lengthAdjust="spacing" font-family="Liberation Sans, sans-serif" font-style="italic" font-weight="normal" stroke="#000" stroke-width="0.9">воздуха,</text>
<text transform="translate(126.3,326.2) rotate(-90) scale(0.880,1)" x="0" y="0" font-size="19.5" textLength="131.1" lengthAdjust="spacing" font-family="Liberation Sans, sans-serif" font-style="italic" font-weight="normal" stroke="#000" stroke-width="0.9">проходящее</text>
<text transform="translate(126.3,199.8) rotate(-90) scale(0.880,1)" x="0" y="0" font-size="19.5" textLength="55.9" lengthAdjust="spacing" font-family="Liberation Sans, sans-serif" font-style="italic" font-weight="normal" stroke="#000" stroke-width="0.9">через</text>
<text transform="translate(126.3,143.6) rotate(-90) scale(0.880,1)" x="0" y="0" font-size="19.5" textLength="77.7" lengthAdjust="spacing" font-family="Liberation Sans, sans-serif" font-style="italic" font-weight="normal" stroke="#000" stroke-width="0.9">кольцо,</text>
<text transform="translate(127.0,75.5) rotate(-90) scale(0.880,1)" x="0" y="0" font-size="27.0" textLength="19.3" lengthAdjust="spacing" font-family="Liberation Sans, sans-serif" font-style="italic" font-weight="normal" stroke="#000" stroke-width="0.9">%</text>
</svg>
</body></html>
